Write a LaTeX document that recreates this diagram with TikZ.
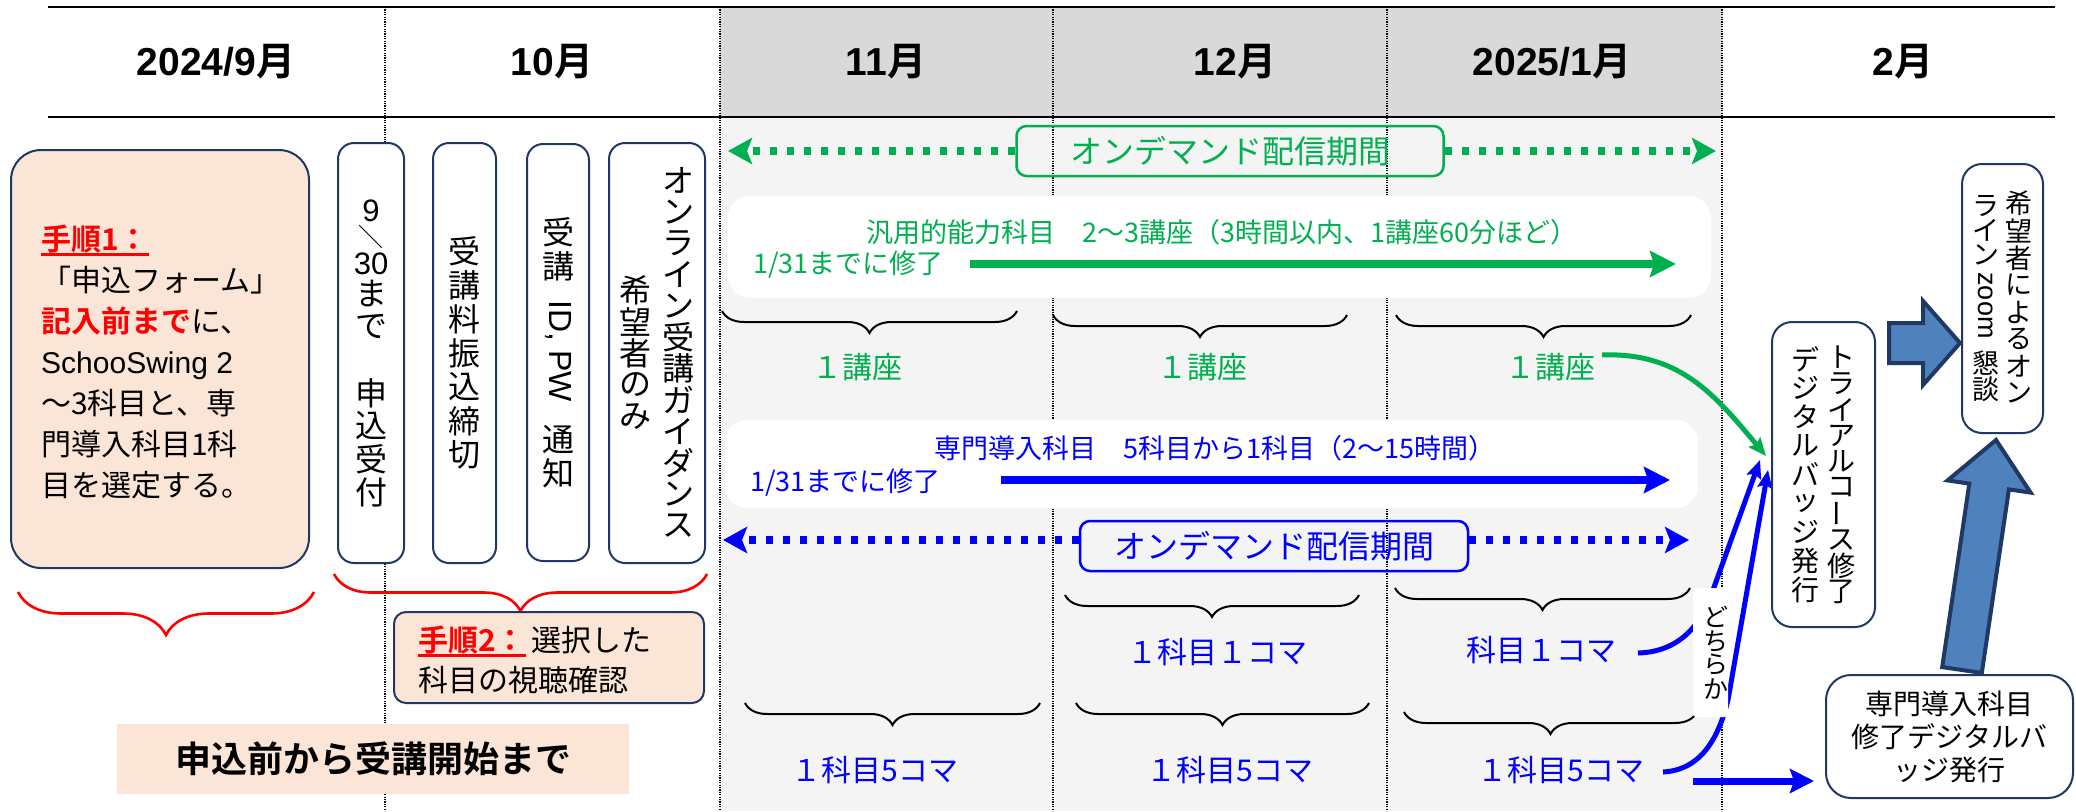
\documentclass[tikz,border=0pt]{standalone}
\usepackage{fontspec}
\usepackage{graphicx}
\setmainfont{Noto Sans CJK JP}[BoldFont={Noto Sans CJK JP Bold}]
\newfontfamily\lat{Liberation Sans}
\usetikzlibrary{arrows.meta,decorations.pathreplacing,calc}
\definecolor{gr}{HTML}{00B050}
\definecolor{bl}{HTML}{0000FF}
\definecolor{rd}{HTML}{FF0000}
\definecolor{nv}{HTML}{1F3864}
\definecolor{peach}{HTML}{FBE5D6}
\definecolor{hdrg}{HTML}{D9D9D9}
\definecolor{bodyg}{HTML}{F4F4F4}
\definecolor{arrf}{HTML}{4F81BD}
\newcommand\fs[2]{\fontsize{#1}{#2}\selectfont}
\newcommand\redul[1]{\setbox0\hbox{#1}\rlap{\rule[-5pt]{\wd0}{2.2pt}}\box0}
\newcommand\hm{{\rmfamily\bfseries 月}}
% vertical (tategaki) stacking helpers
\makeatletter
\newdimen\vp \newdimen\vw
\newcommand\vcell[1]{\vbox to \vp{\vss\hbox to \vw{\hss#1\hss}\vss}}
\newcommand\vchars[1]{\@tfor\vs@c:=#1\do{\vcell{\vs@c}}}
\makeatother
\newcommand\vrot[1]{\hbox to \vw{\hss\rotatebox{-90}{\lat #1}\hss}}
\newcommand\vcol[3]{\ensuremath{\vcenter{\vp=#1\relax\vw=#2\relax\offinterlineskip #3}}}
\begin{document}
\begin{tikzpicture}[x=1pt,y=-1pt,
 sep/.style={line width=1.2pt, dash pattern=on 1.2pt off 1.2pt},
 hd/.style={font={\lat\bfseries\fs{39}{45}}, inner sep=0},
 nbox/.style={draw=nv, line width=2pt, fill=white, inner sep=0},
 brc/.style={decorate, line width=2pt, decoration={brace, mirror, amplitude=22pt}},
 rbrc/.style={decorate, line width=2.6pt, draw=rd},
 gtx/.style={text=gr, font={\fs{27}{30}}, inner sep=0},
 btx/.style={text=bl, font={\fs{27}{30}}, inner sep=0},
 glab/.style={text=gr, font={\fs{30}{34}}, inner sep=0},
 blab/.style={text=bl, font={\fs{30}{34}}, inner sep=0},
 dotln/.style={line width=8pt, dash pattern=on 7pt off 10pt, -{Stealth[length=24pt,width=26pt,inset=5pt]}},
 solid arrow/.style={line width=8pt, -{Stealth[length=26pt,width=26pt,inset=4pt]}},
 curve arrow/.style={line width=5pt, -{Stealth[length=18pt,width=15pt,inset=3pt]}},
 odbox/.style={line width=2.5pt, rounded corners=10pt, font={\fs{32}{36}}, inner sep=0},
 bigarrow/.style={fill=arrf, draw=nv, line width=4pt, line join=miter}
]
\useasboundingbox (0,0) rectangle (2076,811);
\fill[white] (0,0) rectangle (2076,811);
% background bands
\fill[bodyg] (720,117) rectangle (1722,811);
\fill[hdrg] (720,7) rectangle (1722,117);
\foreach \x in {385,720,1053,1387,1722} \draw[sep] (\x,7) -- (\x,811);
\draw[line width=2pt] (48,7) -- (2055,7);
\draw[line width=2pt] (48,117) -- (2055,117);
% header
\node[hd] (h1) at (216,62) {2024/9\hm};
\node[hd] (h2) at (552,62) {10\hm};
\node[hd] (h3) at (886,62) {11\hm};
\node[hd] (h4) at (1235,62) {12\hm};
\node[hd] (h5) at (1552,62) {2025/1\hm};
\node[hd] (h6) at (1903,62) {2\hm};

% step 1 box
\node[nbox, fill=peach, rounded corners=30pt, minimum width=298, minimum height=418] (s1box) at (160,359) {};
\node[anchor=west, align=left, inner sep=0, font={\fs{30}{41}}] (s1txt) at (41,362)
 {{\bfseries\color{rd}\redul{手順1：}}\\
  「申込フォーム」\\
  {\bfseries\color{rd}記入前まで}に、\\
  {\lat SchooSwing 2}\\
  ～3科目と、専\\
  門導入科目1科\\
  目を選定する。};

% vertical boxes in October
\node[nbox, rounded corners=16pt, minimum width=66, minimum height=420, font={\fs{32}{40}}] (bA) at (371,353)
 {\vcol{33pt}{44pt}{{\vp=26pt\vcell{\lat\fs{31}{31}9}\vp=27pt\vcell{\scalebox{0.78}{\rotatebox{-90}{／}}}\vp=27pt\vcell{\lat\fs{31}{31}30}}\vchars{まで　申込受付}}};
\node[nbox, rounded corners=16pt, minimum width=63, minimum height=420, font={\fs{32}{40}}] (bB) at (464.5,353)
 {\vcol{34pt}{40pt}{\vchars{受講料振込締切}}};
\node[nbox, rounded corners=16pt, minimum width=62, minimum height=417, font={\fs{32}{40}}] (bC) at (558,352.5)
 {\vcol{34pt}{40pt}{\vchars{受講}\vskip 18pt\vrot{ID, PW}\vskip 20pt\vchars{通知}}};
\node[nbox, rounded corners=16pt, minimum width=96, minimum height=420, font={\fs{32}{40}}] (bD) at (657,353)
 {\vcol{31.5pt}{34pt}{\vchars{希望者のみ}}\hskip 9pt\vcol{31.4pt}{34pt}{\vchars{オンライン受講ガイダンス}}};

% red braces
\draw[rbrc, decoration={brace, mirror, amplitude=43pt}] (18,592) -- (314,592);
\draw[rbrc, decoration={brace, mirror, amplitude=37pt}] (334,574) -- (707,574);

% step 2 box
\node[nbox, fill=peach, rounded corners=12pt, minimum width=310, minimum height=91] (s2box) at (549,657.5) {};
\node[anchor=west, align=left, inner sep=0, font={\fs{30}{40}}] (s2txt) at (418,660)
 {{\bfseries\color{rd}\redul{手順2：}}\hspace{6pt}選択した\\科目の視聴確認};

% span box
\node[fill=peach, minimum width=512, minimum height=70, inner sep=0, font={\bfseries\fs{36}{40}}] (span) at (373,759) {申込前から受講開始まで};

% white panels
\fill[white, rounded corners=22pt] (728,196) rectangle (1711,298);
\fill[white, rounded corners=22pt] (725,420) rectangle (1698,508);

% green on-demand
\node[odbox, draw=gr, text=gr, minimum width=427, minimum height=50] (odG) at (1230,151) {オンデマンド配信期間};
\coordinate (odGl) at (728,151);
\coordinate (odGr) at (1716,151);
\draw[dotln, gr] (odG.west) -- (odGl);
\draw[dotln, gr] (odG.east) -- (odGr);

% general subjects panel
\node[gtx, anchor=west] (gtitle) at (866,232) {汎用的能力科目　2～3講座（3時間以内、1講座60分ほど）};
\node[gtx, anchor=west] (gdead) at (753,265) {1/31までに修了};
\coordinate (gS) at (970,264);
\coordinate (gE) at (1676,264);
\draw[solid arrow, gr] (gS) -- (gE);

% braces row 1
\draw[brc] (722,311) -- (1017,311);
\draw[brc] (1053,315) -- (1347,315);
\draw[brc] (1396,315) -- (1691,315);
\node[glab] (g1) at (857,367) {１講座};
\node[glab] (g2) at (1202,367) {１講座};
\node[glab] (g3) at (1550,367) {１講座};

% specialised subjects panel
\node[btx, anchor=west] (btitle) at (934,448) {専門導入科目　5科目から1科目（2～15時間）};
\node[btx, anchor=west] (bdead) at (750,483) {1/31までに修了};
\coordinate (bS) at (1001,480);
\coordinate (bE) at (1670,480);
\draw[solid arrow, bl] (bS) -- (bE);

% blue on-demand
\node[odbox, draw=bl, text=bl, minimum width=388, minimum height=50] (odB) at (1274,546) {オンデマンド配信期間};
\coordinate (odBl) at (723,540);
\coordinate (odBr) at (1689,540);
\draw[dotln, bl] (odB.west |- odBl) -- (odBl);
\draw[dotln, bl] (odB.east |- odBr) -- (odBr);

% braces rows 2 and 3
\draw[brc] (1065,595) -- (1359,595);
\draw[brc] (1395,588) -- (1690,588);
\node[blab] (k2) at (1217,652) {１科目１コマ};
\node[blab] (k3) at (1541,650) {科目１コマ};
\draw[brc] (745,703) -- (1040,703);
\draw[brc] (1076,703) -- (1369,703);
\draw[brc] (1404,712) -- (1697,712);
\node[blab] (f1) at (875,770) {１科目5コマ};
\node[blab] (f2) at (1230,770) {１科目5コマ};
\node[blab] (f3) at (1561,770) {１科目5コマ};

% curves to trial badge
\coordinate (gc0) at (1602,355);
\coordinate (tipG) at (1766,456);
\draw[curve arrow, gr] (gc0) .. controls (1680,352) and (1715,395) .. (tipG);
\coordinate (bc1) at (1638,653);
\coordinate (tipB1) at (1760,460);
\draw[curve arrow, bl] (bc1) .. controls (1675,652) and (1700,630) .. (1713,590) -- (tipB1);
\coordinate (bc2) at (1663,772);
\coordinate (tipB2) at (1768,470);
\draw[curve arrow, bl] (bc2) .. controls (1700,770) and (1718,740) .. (1728,700) -- (tipB2);
\coordinate (ba0) at (1693,781);
\coordinate (ba1) at (1814,781);
\draw[line width=7pt, bl, -{Stealth[length=24pt,width=24pt,inset=4pt]}] (ba0) -- (ba1);

% dochira label
\node[fill=white, rounded corners=3pt, minimum width=35, minimum height=129, inner sep=0] (dochi) at (1710.5,652.5) {};
\node[inner sep=0, font={\fs{25}{30}}] (dochit) at (1716,653) {\vcol{24pt}{27pt}{\vchars{どちらか}}};

% right column boxes
\node[nbox, rounded corners=20pt, minimum width=103, minimum height=305, font={\fs{28}{34}}] (trial) at (1823.5,474.5)
 {\vcol{28.9pt}{30pt}{\vchars{デジタルバッジ発行}}\hskip 6pt\vcol{26pt}{30pt}{\vchars{トライアルコ}\vcell{\rotatebox{90}{ー}}\vchars{ス修了}}};
\node[nbox, rounded corners=20pt, minimum width=81, minimum height=269, font={\fs{27}{32}}] (zoomb) at (2002.5,298.5)
 {\vcol{24pt}{28pt}{\vchars{ライン}\vskip 6pt\vrot{zoom}\vskip 12pt\vp=26pt\vchars{懇談}}\hskip 5pt\vcol{27.1pt}{28pt}{\vchars{希望者によるオン}}};
\node[nbox, rounded corners=25pt, align=center, minimum width=247, minimum height=123, font={\fs{28}{33}}] (sbadge) at (1949.5,736.5)
 {専門導入科目\\修了デジタルバ\\ッジ発行};

% block arrows
\draw[bigarrow] (1889,323) -- (1923,323) -- (1923,301) -- (1960,343) -- (1923,385) -- (1923,363) -- (1889,363) -- cycle;
\draw[bigarrow] (1942.2,667.1) -- (1969.3,483.6) -- (1947.6,480.4) -- (1996,440) -- (2030.6,492.6) -- (2008.9,489.4) -- (1981.8,672.9) -- cycle;
\end{tikzpicture}
\end{document}
